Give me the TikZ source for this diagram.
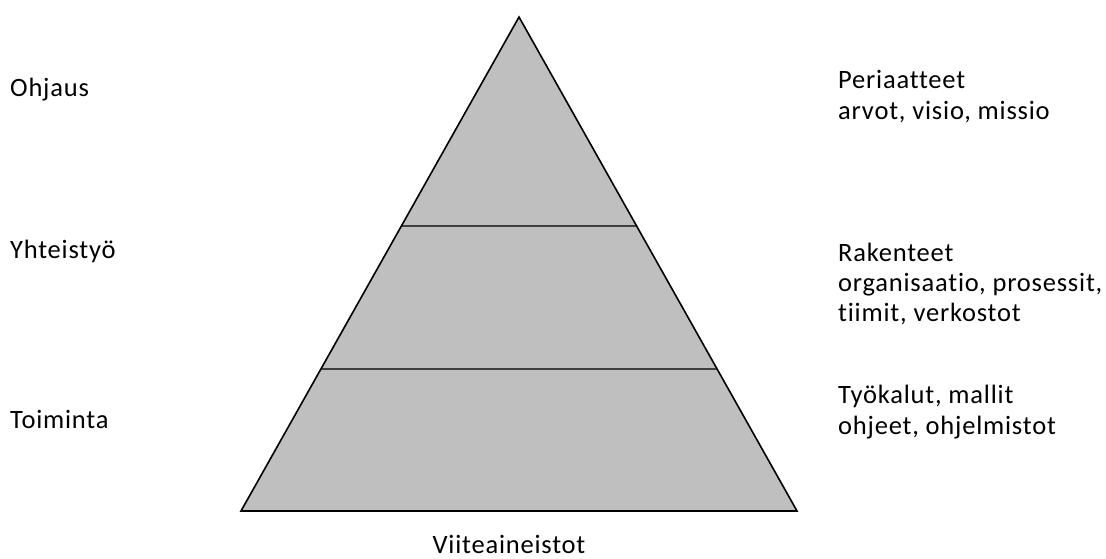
\documentclass[tikz,border=0pt]{standalone}
\usepackage{fontspec}
\setmainfont[LetterSpace=3,RawFeature=-liga]{Carlito}
\usetikzlibrary{calc}
\begin{document}
\begin{tikzpicture}[x=1pt,y=-1pt,
  lbl/.style={anchor=base west,inner sep=0pt,font=\fontsize{26.5}{31}\selectfont},
  tier/.style={draw=black!75,line width=1.3pt}]
\useasboundingbox (0,0) rectangle (1106,558);
\coordinate (apex) at (519,17);
\coordinate (bl) at (241,511);
\coordinate (br) at (797,511);
\fill[fill={rgb,255:red,191;green,191;blue,191}] (apex) -- (br) -- (bl) -- cycle;
\coordinate (l1) at ($(apex)!209/494!(bl)$);
\coordinate (r1) at ($(apex)!209/494!(br)$);
\coordinate (l2) at ($(apex)!352/494!(bl)$);
\coordinate (r2) at ($(apex)!352/494!(br)$);
\draw[tier] (l1) -- (r1);
\draw[tier] (l2) -- (r2);
\draw[line width=1.6pt,line join=miter] (apex) -- (br) -- (bl) -- cycle;
\node[lbl] (ohj) at (10,96) {Ohjaus};
\node[lbl] (yht) at (10,258) {Yhteistyö};
\node[lbl] (toi) at (10,428) {Toiminta};
\node[lbl] (per) at (838,88) {Periaatteet};
\node[lbl] (arv) at (838,119) {arvot, visio, missio};
\node[lbl] (rak) at (838,261) {Rakenteet};
\node[lbl] (org) at (838,291) {organisaatio, prosessit,};
\node[lbl] (tii) at (838,321) {tiimit, verkostot};
\node[lbl] (tyo) at (838,403) {Työkalut, mallit};
\node[lbl] (ohe) at (838,434) {ohjeet, ohjelmistot};
\node[lbl,anchor=base] (vii) at (509,553) {Viiteaineistot};
\end{tikzpicture}
\end{document}
